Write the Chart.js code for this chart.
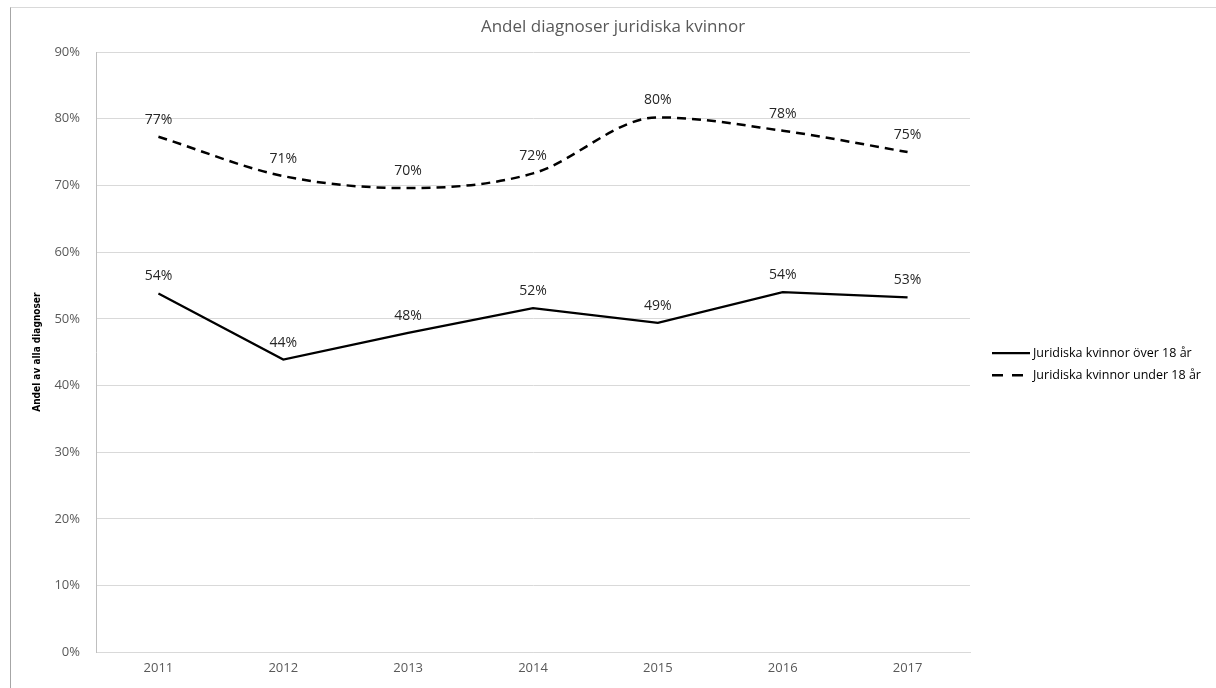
<!DOCTYPE html>
<html>
<head>
<meta charset="utf-8">
<script src="https://cdn.jsdelivr.net/npm/chart.js@4"></script>
<style>
  body { margin: 0; background: #fff; }
  #wrap { position: relative; width: 1216px; height: 688px; overflow: hidden; }
  #frame { position: absolute; left: 10px; top: 7px; right: 0; bottom: 0;
           border-left: 1px solid #a6a6a6; border-top: 1px solid #d9d9d9; }
  #chart { position: absolute; left: 0; top: 0; }
</style>
</head>
<body>
<div id="wrap">
  <div id="frame"></div>
  <canvas id="chart" width="1216" height="688"></canvas>
</div>
<script>
// Data
const years = ['2011', '2012', '2013', '2014', '2015', '2016', '2017'];
const overEighteen = [53.8, 43.9, 47.9, 51.6, 49.4, 54.0, 53.2];
const underEighteen = [77.3, 71.4, 69.6, 71.8, 80.2, 78.2, 75.0];
const seriesNames = ['Juridiska kvinnor över 18 år', 'Juridiska kvinnor under 18 år'];
const yTicks = [0, 10, 20, 30, 40, 50, 60, 70, 80, 90];
const chartTitle = 'Andel diagnoser juridiska kvinnor';

const tickColor = '#595959';
const gridColor = '#d9d9d9';

// Draw value labels above each point
const valueLabels = {
  id: 'valueLabels',
  afterDatasetsDraw(chart) {
    const ctx = chart.ctx;
    ctx.save();
    ctx.font = '14px "Open Sans"';
    ctx.fillStyle = '#262626';
    ctx.textAlign = 'center';
    ctx.textBaseline = 'middle';
    chart.data.datasets.forEach((ds, i) => {
      chart.getDatasetMeta(i).data.forEach((pt, j) => {
        ctx.fillText(Math.round(ds.data[j]) + '%', pt.x, pt.y - 17);
      });
    });
    ctx.restore();
  }
};

// Title centred on the whole picture + legend at the right side
const titleAndLegend = {
  id: 'titleAndLegend',
  afterDraw(chart) {
    const ctx = chart.ctx;
    ctx.save();
    ctx.font = '17px "Open Sans"';
    ctx.fillStyle = tickColor;
    ctx.textAlign = 'center';
    ctx.textBaseline = 'middle';
    ctx.fillText(chartTitle, chart.width / 2 + 5, 27);

    const x0 = chart.chartArea.right + 22;
    const midY = (chart.chartArea.top + chart.chartArea.bottom) / 2;
    ctx.font = '12.5px "Open Sans"';
    ctx.textAlign = 'left';
    ctx.fillStyle = '#000';
    chart.data.datasets.forEach((ds, i) => {
      const y = midY + 1 + i * 22;
      ctx.strokeStyle = ds.borderColor;
      ctx.lineWidth = ds.borderWidth;
      ctx.setLineDash(ds.borderDash ? [11, 9] : []);
      ctx.beginPath();
      ctx.moveTo(x0, y);
      ctx.lineTo(x0 + (ds.borderDash ? 31 : 38), y);
      ctx.stroke();
      ctx.setLineDash([]);
      ctx.fillText(ds.label, x0 + 41, y);
    });
    ctx.restore();
  }
};

new Chart(document.getElementById('chart'), {
  type: 'line',
  data: {
    labels: years,
    datasets: [
      {
        label: seriesNames[0],
        data: overEighteen,
        borderColor: '#000',
        borderWidth: 2.25,
        pointRadius: 0,
        tension: 0
      },
      {
        label: seriesNames[1],
        data: underEighteen,
        borderColor: '#000',
        borderWidth: 2.5,
        borderDash: [9, 6],
        pointRadius: 0,
        cubicInterpolationMode: 'monotone'
      }
    ]
  },
  options: {
    responsive: false,
    animation: false,
    devicePixelRatio: 1,
    layout: { padding: { left: 31, right: 246, top: 52, bottom: 4 } },
    plugins: {
      legend: { display: false },
      tooltip: { enabled: false },
      title: { display: false }
    },
    scales: {
      x: {
        offset: true,
        grid: { display: false, drawTicks: false },
        border: { display: true, color: gridColor },
        ticks: { color: tickColor, padding: 8, font: { family: '"Open Sans"', size: 13 } }
      },
      y: {
        min: 0,
        max: 90,
        afterBuildTicks(scale) {
          scale.ticks = yTicks.map(v => ({ value: v }));
        },
        afterFit(scale) {
          scale.width = 65;
        },
        grid: { color: gridColor, lineWidth: 1, drawTicks: false },
        border: { display: true, color: '#bfbfbf' },
        ticks: {
          color: tickColor,
          padding: 16,
          font: { family: '"Open Sans"', size: 13 },
          callback: v => v + '%'
        },
        title: {
          display: true,
          text: 'Andel av alla diagnoser',
          color: '#000',
          padding: { top: 0, bottom: 0 },
          font: { family: '"Liberation Sans Narrow", "DejaVu Sans Condensed", sans-serif', size: 10, weight: 'bold' }
        }
      }
    }
  },
  plugins: [valueLabels, titleAndLegend]
});
</script>
</body>
</html>
